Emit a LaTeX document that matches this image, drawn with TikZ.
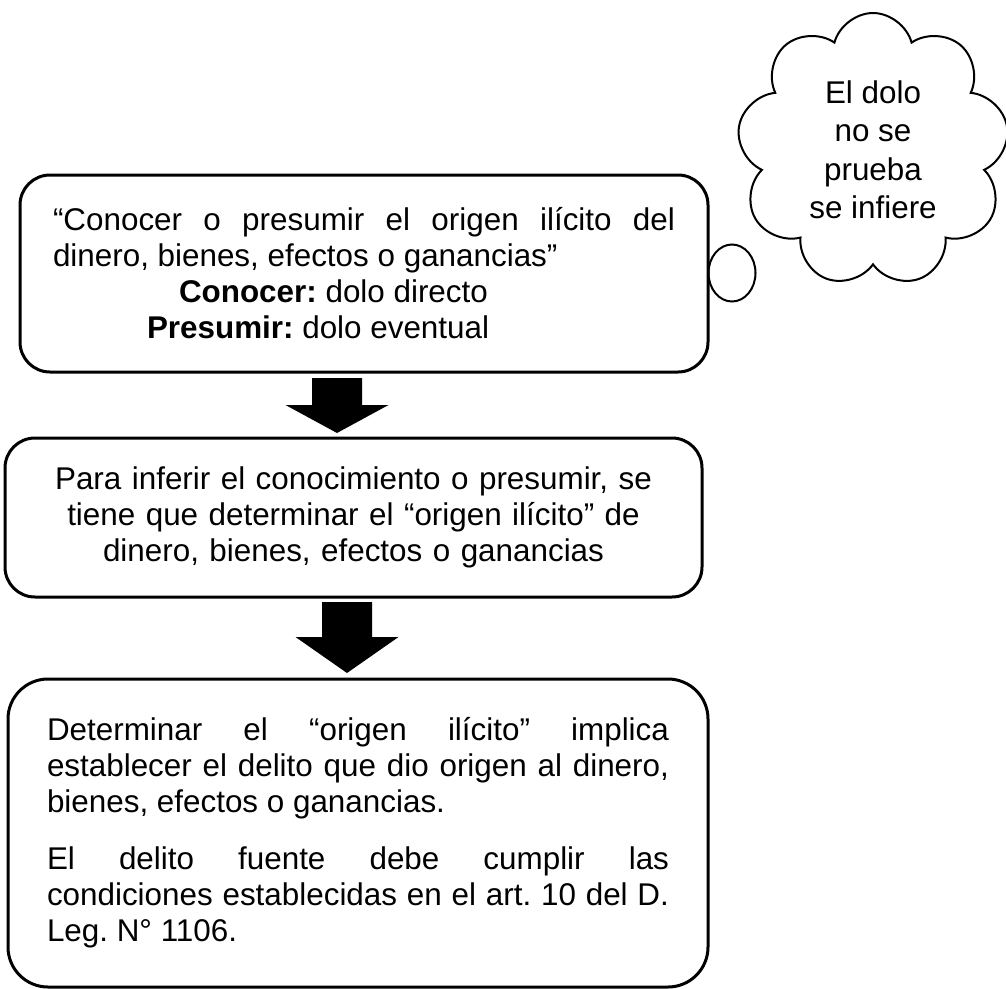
\documentclass[tikz,border=0pt]{standalone}
\usepackage{fontspec}
\setmainfont{Liberation Sans}
\usetikzlibrary{shapes.geometric,shapes.symbols}
\tolerance=10000
\hyphenpenalty=10000
\frenchspacing
\def\blockarr(#1,#2)(#3:#4){\fill (#1-25,#2) -- (#1+25,#2) -- (#1+25,#3) -- (#1+51.5,#3) -- (#1,#4) -- (#1-51.5,#3) -- (#1-25,#3) -- cycle;}
\tikzset{
	box/.style={draw, line width=3pt, rounded corners=30pt, inner sep=0pt, text width=622pt},
	txt/.style={font=\fontsize{31.4}{36}\selectfont},
}

\begin{document}
\begin{tikzpicture}[x=1pt, y=-1pt]
			%%%%% START %%%%%
			\useasboundingbox (0, 0) rectangle (1006, 988);
			
			\node[cloud, draw, line width=2pt, cloud puffs=9, cloud ignores aspect, minimum width=272pt, minimum height=274pt, align=center, font=\fontsize{31.4}{38.5}\selectfont] (cloud) at (873, 150) {El dolo\\no se\\prueba\\se infiere};
			\node[ellipse, draw, line width=2pt, minimum width=47pt, minimum height=57pt, inner sep=0pt] (bubble) at (732, 273) {};
			
			\node[box, txt, align=justify, minimum width=688pt, minimum height=197pt] (conocer) at (364, 273.5) {“Conocer o presumir el origen ilícito del\linebreak dinero, bienes, efectos o ganancias”\par
				\hspace*{126pt}\textbf{Conocer:} dolo directo\par
				\hspace*{94pt}\textbf{Presumir:} dolo eventual};
			
			\blockarr(337, 378)(405:433);
			
			\node[box, txt, align=center, minimum width=697pt, minimum height=159pt] (inferir) at (353.5, 517.5) {Para inferir el conocimiento o presumir, se\\tiene que determinar el “origen ilícito” de\\dinero, bienes, efectos o ganancias};
			
			\blockarr(347, 602)(637:673);
			
			\node[box, txt, align=justify, rounded corners=40pt, minimum width=700pt, minimum height=308pt] (origen) at (358, 833) {Determinar el “origen ilícito” implica\linebreak establecer el delito que dio origen al dinero,\linebreak bienes, efectos o ganancias.\par\vspace{21pt}
				El delito fuente debe cumplir las\linebreak condiciones establecidas en el art. 10 del D.\linebreak Leg. N° 1106.};
			
			%%%%% END %%%%%
\end{tikzpicture}
\end{document}
